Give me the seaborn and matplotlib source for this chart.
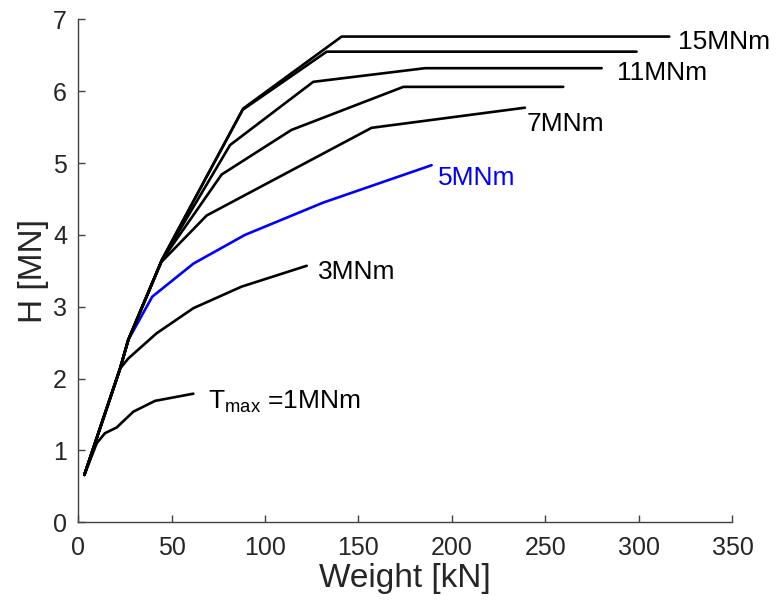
import numpy as np
import pandas as pd
import matplotlib
matplotlib.use("Agg")
import matplotlib.pyplot as plt
import seaborn as sns

# curves: weight [kN] vs horizontal force H [MN]
w_1 = [3.4, 10.0, 14.4, 20.7, 29.6, 41.2, 61.7]
h_1 = [0.66, 1.10, 1.24, 1.32, 1.54, 1.69, 1.79]

w_3 = [3.4, 22.5, 26.9, 42.0, 61.7, 87.5, 122.3]
h_3 = [0.66, 2.14, 2.28, 2.63, 2.98, 3.28, 3.57]

w_5 = [3.4, 22.5, 26.9, 39.7, 61.7, 89.3, 131.2, 189.1]
h_5 = [0.66, 2.14, 2.54, 3.14, 3.60, 4.00, 4.45, 4.97]

w_7 = [3.4, 22.5, 26.9, 44.5, 68.8, 157.0, 239.0]
h_7 = [0.66, 2.14, 2.54, 3.62, 4.27, 5.49, 5.77]

w_9 = [3.4, 22.5, 26.9, 44.7, 76.8, 114.1, 156.0, 174.0, 259.5]
h_9 = [0.66, 2.14, 2.54, 3.64, 4.84, 5.46, 5.88, 6.06, 6.06]

w_11 = [3.4, 22.5, 26.9, 44.9, 81.3, 125.8, 185.6, 280.0]
h_11 = [0.66, 2.14, 2.54, 3.65, 5.25, 6.13, 6.32, 6.32]

w_13 = [3.4, 22.5, 26.9, 45.0, 88.0, 133.0, 298.7]
h_13 = [0.66, 2.14, 2.54, 3.66, 5.74, 6.55, 6.55]

w_15 = [3.4, 22.5, 26.9, 45.0, 88.4, 141.0, 316.2]
h_15 = [0.66, 2.14, 2.54, 3.66, 5.76, 6.76, 6.76]

curves = {
    "1MNm": (w_1, h_1), "3MNm": (w_3, h_3), "5MNm": (w_5, h_5),
    "7MNm": (w_7, h_7), "9MNm": (w_9, h_9), "11MNm": (w_11, h_11),
    "13MNm": (w_13, h_13), "15MNm": (w_15, h_15),
}

rows = []
for name, (w, h) in curves.items():
    for i, (x, y) in enumerate(zip(w, h)):
        rows.append((name, i, x, y))
df = pd.DataFrame(rows, columns=["torque", "idx", "weight", "H"])

palette = {k: "black" for k in curves}
palette["5MNm"] = "#0000FF"

# label texts and where they sit
label_text = [r"T$_{\mathregular{max}}$ =1MNm", "3MNm", "5MNm", "7MNm", "11MNm", "15MNm"]
label_x = [69.5, 128.3, 192.5, 240.0, 288.0, 321.0]
label_y = [1.67, 3.48, 4.79, 5.55, 6.25, 6.69]
label_col = ["black", "black", "#0000FF", "black", "black", "black"]

sns.set_style("ticks")
plt.rcParams["font.family"] = ["Liberation Sans", "DejaVu Sans"]
plt.rcParams["mathtext.default"] = "regular"
plt.rcParams["xtick.direction"] = "in"
plt.rcParams["ytick.direction"] = "in"

fig = plt.figure(figsize=(7.77, 6.0), dpi=100)
ax = fig.add_axes([0.1004, 0.1295, 0.8423, 0.8383])

sns.lineplot(data=df, x="weight", y="H", hue="torque", units="torque",
             estimator=None, sort=False, palette=palette, linewidth=1.9,
             legend=False, ax=ax)

for t, x, y, c in zip(label_text, label_x, label_y, label_col):
    ax.text(x, y, t, color=c, fontsize=19, va="center", ha="left")

ax.set_xlim(0, 350)
ax.set_ylim(0, 7)
ax.set_xticks(np.arange(0, 351, 50))
ax.set_yticks(np.arange(0, 8, 1))
ax.tick_params(labelsize=18, length=5, width=1, color="#404040", labelcolor="#262626")
ax.tick_params(axis="x", pad=10)
ax.tick_params(axis="y", pad=8)
ax.set_xlabel("Weight [kN]", fontsize=24, color="#262626", labelpad=2)
ax.set_ylabel("H [MN]", fontsize=24, color="#262626", labelpad=3)
sns.despine(ax=ax)
for s in ["left", "bottom"]:
    ax.spines[s].set_color("#404040")
    ax.spines[s].set_linewidth(1)

fig.savefig("out.png", dpi=100)
